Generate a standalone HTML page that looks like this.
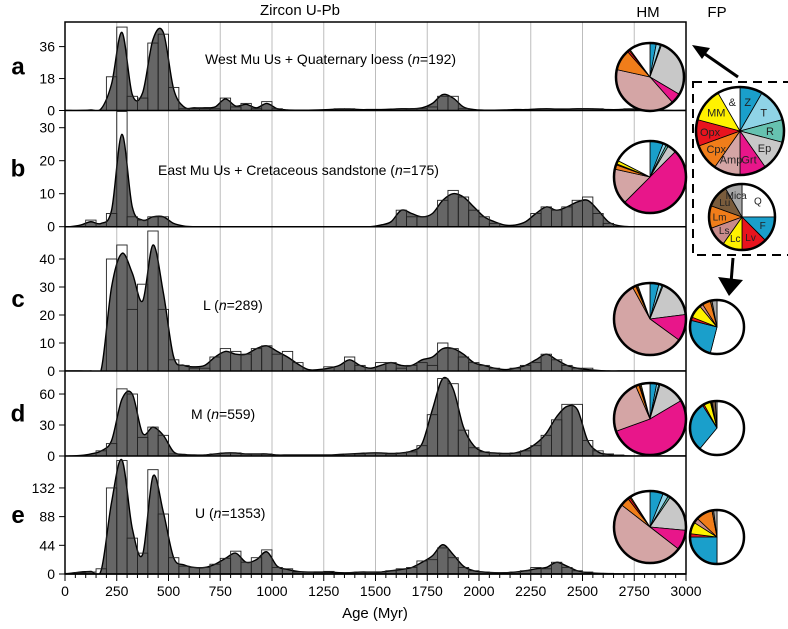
<!DOCTYPE html>
<html><head><meta charset="utf-8"><style>
html,body{margin:0;padding:0;background:#fff;}
svg{display:block;font-family:"Liberation Sans",sans-serif;}
</style></head><body>
<svg id="fig" width="788" height="629" viewBox="0 0 788 629">
<defs id="defs"></defs>
<text x="300" y="15" font-size="15" text-anchor="middle">Zircon U-Pb</text>
<text x="648" y="17" font-size="15" text-anchor="middle">HM</text>
<text x="717" y="17" font-size="15" text-anchor="middle">FP</text>
<text x="375" y="618" font-size="15" text-anchor="middle">Age (Myr)</text>
<g id="plots"></g>
<g id="pies"></g>
</svg>
<script>
const ageTicks=[0,250,500,750,1000,1250,1500,1750,2000,2250,2500,2750,3000];
const panelNames=['a','b','c','d','e'];
const panelLabels=['West Mu Us + Quaternary loess (','East Mu Us + Cretaceous sandstone (','L (','M (','U ('];
const panelN=['192','175','289','559','1353'];
const yTicksA=[0,18,36],yTicksB=[0,10,20,30],yTicksC=[0,10,20,30,40],yTicksD=[0,30,60],yTicksE=[0,44,88,132];
const histA=[0,0,0,0,19,47,8,7,38,43,13,1,1,1,1,7,2,4,1,5,1,0,0,0,0,0,1,1,0,0,0,0,1,1,1,2,8,8,1,0,0,0,0,0,0,0,1,0,0,1,1,1,0,0,1,0,0,0,0,0];
const kdeA=[0,0,0.3,1,15,44,9,10,40,44,12,2,1.5,1.5,2,6.5,2.5,3.5,1.5,4,1,0.3,0.2,0.2,0.3,0.5,0.8,0.8,0.5,0.5,0.5,0.7,1,1,1.5,4,9,7,2,0.5,0.2,0.2,0.3,0.5,0.5,0.8,1,0.8,0.8,1,1,0.8,0.5,0.5,0.8,0.5,0.2,0.1,0,0];
const histB=[0,0,2,0,4,35,3,2,3,3,0,0,0,0,0,0,0,0,0,0,0,0,0,0,0,0,0,0,0,0,0,0,5,3,3,0,8,11,9,5,3,1,0,0,0,4,6,5,6,8,9,4,1,0,0,0,0,0,0,0];
const kdeB=[0,0.5,1.5,1,5,28,6,2,3,3,1,0.2,0,0,0,0,0,0,0,0,0,0,0,0,0,0,0,0,0,0,0.5,1.5,5,4,3,4,8,10,9,6,3,1.5,0.5,0.5,1.5,4,6,5,6,7.5,8,5,1.5,0.3,0,0,0,0,0,0];
const histC=[0,0,0,0,40,45,22,31,50,22,4,2,1,1,5,8,7,6,8,9,6,7,3,0,0,1.5,0,5,2,0,3,3,1,2,3,2,10,8,5,3,2,1,0,1,2,3,6,4,2,1,1,0,0,0,0,0,0,0,0,0];
const kdeC=[0,0,0,0.5,30,42,35,25,45,28,5,2,1.5,2,5,7,6,6,8,9,7,5,2.5,0.5,0.5,1,2,4,2,1,2,3,2,2,4,5,8,8,6,3,2,1,0.5,1,2,4,6,4,2,1,0.5,0.2,0,0,0,0,0,0,0,0];
const histD=[0,0,0,5,12,65,60,18,28,20,2,1,1,1,2,3,3,2,2,2,1,1,1,1,1,1,1,2,2,3,3,2,3,4,10,40,75,70,25,8,4,3,2,3,5,10,20,35,50,50,15,5,2,1,0,0,0,0,0,0];
const kdeD=[0,0.5,2,5,15,55,60,22,28,20,4,1.5,1,1,2,3,3,2,2,2,1,1,1,1,1,1,1.5,2,2.5,3,3,2.5,3,5,12,45,75,65,28,10,4,3,2.5,3,6,12,22,38,48,45,15,4,1.5,0.5,0,0,0,0,0,0];
const histE=[1,2,3,8,132,174,55,32,160,92,25,12,10,10,15,24,35,18,25,37,10,8,3,3,2,4,1,2,3,3,3,5,8,10,20,22,40,25,10,5,3,2,2,3,5,10,8,18,10,5,3,1,1,0,0,0,0,0,0,0];
const kdeE=[1,3,4,6,110,175,70,30,150,95,25,14,10,10,15,24,32,18,22,34,12,7,4,3,3,3,2,2,3,3,3,5,7,10,18,28,45,30,12,5,3,2,2,3,5,8,10,18,12,5,2,1,0.5,0,0,0,0,0,0,0];
const hmColors=['#1a9fcb','#8fd3e6','#66c2b0','#c8c8c8','#e8168a','#d4a5a5','#f07d1a','#e8141e','#fff200','#ffffff'];
const hmLabels=['Z','T','R','Ep','Grt','Amp','Cpx','Opx','MM','&'];
const hmLegend=[30,45,30,40,35,35,35,35,45,30];
const hmA=[.03,.02,.005,.28,.05,.40,.10,.01,.005,.10];
const hmB=[.06,.015,.01,.04,.50,.16,.02,.005,.015,.175];
const hmC=[.04,.015,.005,.17,.12,.57,.015,.005,.005,.055];
const hmD=[.03,.01,.005,.12,.53,.24,.015,.005,.005,.04];
const hmE=[.06,.025,.01,.17,.09,.50,.04,.01,.005,.09];
const fpColors=['#ffffff','#1a9fcb','#e8141e','#fff200','#c98b8b','#f07d1a','#7a5c3c','#a8a8a8'];
const fpLabels=['Q','F','Lv','Lc','Ls','Lm','Lu','Mica'];
const fpLegend=[90,45,45,35,35,40,40,30];
const fpC=[.54,.25,.02,.08,.02,.05,.01,.03];
const fpD=[.61,.30,.01,.04,.005,.005,.02,.01];
const fpE=[.50,.25,.02,.07,.03,.10,.01,.02];

const NS='http://www.w3.org/2000/svg';
const X0=65,X1=686,TOP=22,BOT=574;
const xs=a=>X0+(a/3000)*(X1-X0);
const panels=[
 {top:22,zero:110.5,sc:1.775,hist:histA,kde:kdeA,ticks:yTicksA,lx:205,ly:64},
 {top:110.5,zero:226.7,sc:3.3,hist:histB,kde:kdeB,ticks:yTicksB,lx:158,ly:175},
 {top:226.7,zero:371,sc:2.8,hist:histC,kde:kdeC,ticks:yTicksC,lx:203,ly:310},
 {top:371,zero:456,sc:1.033,hist:histD,kde:kdeD,ticks:yTicksD,lx:191,ly:419},
 {top:456,zero:574,sc:0.652,hist:histE,kde:kdeE,ticks:yTicksE,lx:195,ly:518}];
function el(t,at,p){const e=document.createElementNS(NS,t);for(const k in at)e.setAttribute(k,at[k]);p.appendChild(e);return e;}
const G=document.getElementById('plots');
const D=document.getElementById('defs');
ageTicks.slice(1,-1).forEach(a=>{const l=el('line',{x1:xs(a),x2:xs(a),y1:TOP,y2:BOT,stroke:'#bdbdbd','stroke-width':1},G);

});
function smooth(pts){let d='M'+pts[0][0]+','+pts[0][1];for(let i=0;i<pts.length-1;i++){const p0=pts[Math.max(0,i-1)],p1=pts[i],p2=pts[i+1],p3=pts[Math.min(pts.length-1,i+2)];
d+=' C'+(p1[0]+(p2[0]-p0[0])/6)+','+(p1[1]+(p2[1]-p0[1])/6)+' '+(p2[0]-(p3[0]-p1[0])/6)+','+(p2[1]-(p3[1]-p1[1])/6)+' '+p2[0]+','+p2[1];}return d;}
panels.forEach((P,i)=>{
 const cp=el('clipPath',{id:'clip'+i},D);
 el('rect',{x:X0,y:P.top,width:X1-X0,height:P.zero-P.top},cp);
 const g=el('g',{},G);
 
 
 const cg=el('g',{'clip-path':'url(#clip'+i+')'},g);
 const ys=v=>Math.max(P.top+1,P.zero-v*P.sc);
 const pts=[[xs(0),P.zero]];P.kde.forEach((v,k)=>pts.push([xs(k*50+25),ys(v)]));pts.push([xs(3000),P.zero]);
 const line=smooth(pts);
 const f=el('path',{d:line+' L'+xs(3000)+','+P.zero+' L'+xs(0)+','+P.zero+'Z',fill:'#666666',stroke:'none'},cg);
 
 
 P.hist.forEach((v,k)=>{if(v<=0)return;const r=el('rect',{x:xs(k*50),y:ys(v),width:xs(50)-xs(0),height:P.zero-ys(v),fill:'none',stroke:'#222','stroke-width':0.9},g);
  
  });
 const l=el('path',{d:line,fill:'none',stroke:'#000','stroke-width':1.4},cg);
 
 
 const b=el('line',{x1:X0,x2:X1,y1:P.zero,y2:P.zero,stroke:'#000','stroke-width':1.5},g);
 
 
 P.ticks.forEach(t=>{const y=P.zero-t*P.sc;
  const tk=el('line',{x1:X0-6,x2:X0,y1:y,y2:y,stroke:'#000','stroke-width':1},g);
  
  
  const tx=el('text',{x:X0-10,y:y+5,'font-size':14,'text-anchor':'end'},g);tx.textContent=t;
  
  });
 const lt=el('text',{x:18,y:(P.top+P.zero)/2+8,'font-size':24,'font-weight':'bold','text-anchor':'middle'},g);lt.textContent=panelNames[i];
 
 
 const st=el('text',{x:P.lx,y:P.ly,'font-size':14},g);
 st.innerHTML=panelLabels[i]+'<tspan font-style="italic">n</tspan>='+panelN[i]+')';
 
 
});
const fr=el('rect',{x:X0,y:TOP,width:X1-X0,height:BOT-TOP,fill:'none',stroke:'#000','stroke-width':1.5},G);


for(let a=0;a<=3000;a+=50){const t=el('line',{x1:xs(a),x2:xs(a),y1:BOT,y2:BOT+(a%250?4:7),stroke:'#000','stroke-width':1},G);

}
ageTicks.forEach(a=>{const t=el('text',{x:xs(a),y:BOT+22,'font-size':14,'text-anchor':'middle'},G);t.textContent=a;

});

const PG=document.getElementById('pies');
function pie(cx,cy,r,fr,cols,name,labels,fs){
 const g=el('g',{},PG);
 
 
 const tot=fr.reduce((s,v)=>s+v,0);let a=0;
 fr.forEach((v,k)=>{if(v<=0)return;const a0=a/tot*2*Math.PI,a1=(a+v)/tot*2*Math.PI;a+=v;
  const p=(t)=>[cx+r*Math.sin(t),cy-r*Math.cos(t)];const s=p(a0),e=p(a1);
  const d='M'+cx+','+cy+' L'+s[0]+','+s[1]+' A'+r+','+r+' 0 '+((a1-a0)>Math.PI?1:0)+' 1 '+e[0]+','+e[1]+'Z';
  const sl=el('path',{d:d,fill:cols[k],stroke:'#000','stroke-width':0.8},g);
  
  
  if(labels){const m=(a0+a1)/2,rr=r*0.68;const t=el('text',{x:cx+rr*Math.sin(m),y:cy-rr*Math.cos(m)+fs*0.35,'font-size':fs,'text-anchor':'middle',fill:'#222'},g);t.textContent=labels[k];
   
   }
 });
 const c=el('circle',{cx:cx,cy:cy,r:r,fill:'none',stroke:'#000','stroke-width':2.5},g);
 
 
}
pie(650,77,34,hmA,hmColors,'hm-pie-a');
pie(650,177,36,hmB,hmColors,'hm-pie-b');
pie(650,319,36,hmC,hmColors,'hm-pie-c');
pie(650,419,36,hmD,hmColors,'hm-pie-d');
pie(650,527,36,hmE,hmColors,'hm-pie-e');
pie(717,327,27,fpC,fpColors,'fp-pie-c');
pie(717,428,27,fpD,fpColors,'fp-pie-d');
pie(717,537,27,fpE,fpColors,'fp-pie-e');
const box=el('rect',{x:693,y:82,width:100,height:173,fill:'none',stroke:'#000','stroke-width':2,'stroke-dasharray':'9,6'},PG);


pie(740,131,44,hmLegend,hmColors,'hm-legend-pie',hmLabels,11);
pie(742,217,33,fpLegend,fpColors,'fp-legend-pie',fpLabels,10);
const a1=el('line',{x1:738,y1:77,x2:702,y2:52,stroke:'#000','stroke-width':3},PG);


const h1=el('polygon',{points:'692,45 710,48 702,59',fill:'#000'},PG);


const a2=el('line',{x1:733,y1:258,x2:731,y2:283,stroke:'#000','stroke-width':3},PG);


const h2=el('polygon',{points:'718,277 743,280 729,296',fill:'#000'},PG);


</script>
</body></html>
